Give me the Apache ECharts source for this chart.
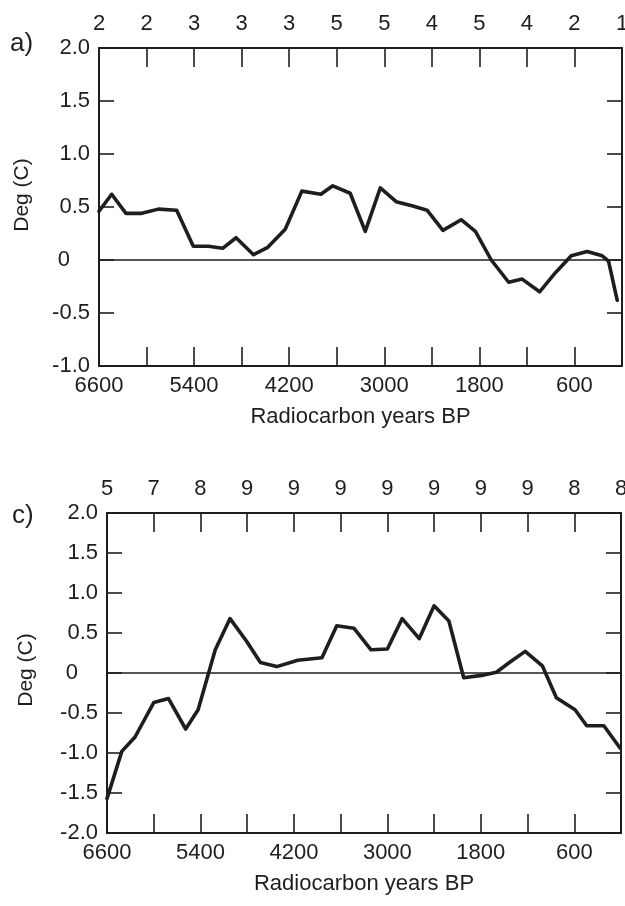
<!DOCTYPE html>
<html>
<head>
<meta charset="utf-8">
<script src="https://cdn.jsdelivr.net/npm/echarts@6/dist/echarts.min.js"></script>
<style>
html,body{margin:0;padding:0;background:#fff;}
#chart{width:625px;height:906px;}
</style>
</head>
<body>
<div id="chart"></div>
<script>
// Panel a) data (radiocarbon years BP, degrees C)
const yearsA = [6600, 6440, 6260, 6060, 5850, 5620, 5410, 5220, 5040, 4870, 4650, 4470, 4250, 4040, 3800, 3650, 3430, 3240, 3050, 2850, 2640, 2460, 2260, 2030, 1850, 1650, 1430, 1260, 1040, 840, 640, 440, 250, 170, 60];
const degA   = [0.46, 0.62, 0.44, 0.44, 0.48, 0.47, 0.13, 0.13, 0.11, 0.21, 0.05, 0.12, 0.29, 0.65, 0.62, 0.70, 0.63, 0.27, 0.68, 0.55, 0.51, 0.47, 0.28, 0.38, 0.27, 0.0, -0.21, -0.18, -0.30, -0.12, 0.04, 0.08, 0.04, -0.01, -0.38];
// Panel c) data
const yearsC = [6600, 6410, 6240, 6000, 5810, 5590, 5430, 5210, 5020, 4810, 4630, 4420, 4150, 3840, 3650, 3430, 3210, 3000, 2810, 2590, 2400, 2210, 2020, 1790, 1600, 1420, 1230, 1010, 830, 590, 440, 220, 10];
const degC   = [-1.57, -0.98, -0.80, -0.37, -0.32, -0.70, -0.46, 0.29, 0.68, 0.40, 0.13, 0.08, 0.16, 0.19, 0.59, 0.56, 0.29, 0.30, 0.68, 0.43, 0.84, 0.65, -0.06, -0.03, 0.01, 0.14, 0.27, 0.09, -0.31, -0.46, -0.66, -0.66, -0.94];
// Top-axis labels (number of records), from 6600 BP to 0 BP
const countsA = ['2', '2', '3', '3', '3', '5', '5', '4', '5', '4', '2', '1'];
const countsC = ['5', '7', '8', '9', '9', '9', '9', '9', '9', '9', '8', '8'];
// Bottom-axis labelled years
const yearLabels = [6600, 5400, 4200, 3000, 1800, 600];
const panelLabels = ['a)', 'c)'];
const xTitle = 'Radiocarbon years BP';
const yTitle = 'Deg (C)';

const FONT = 'Liberation Sans, Arial, Helvetica, sans-serif';
const INK = '#1e1e1e';

function pairs(xs, ys){ return xs.map((x,i)=>[x, ys[i]]); }

function xAxes(gridIndex, counts){
  const common = {
    gridIndex, type:'value', min:0, max:6600, interval:600, inverse:true,
    axisLine:{show:true, onZero:false, lineStyle:{color:INK, width:2}},
    axisTick:{show:true, inside:true, length:19, lineStyle:{color:INK, width:1.6}},
    splitLine:{show:false}
  };
  return [
    Object.assign({}, common, {
      position:'bottom',
      name:xTitle, nameLocation:'middle', nameGap:40,
      nameTextStyle:{fontFamily:FONT, fontSize:22, color:INK},
      axisLabel:{show:true, margin:9, fontFamily:FONT, fontSize:22, color:INK,
        showMinLabel:true, showMaxLabel:true, hideOverlap:false,
        formatter:(v)=> yearLabels.indexOf(v) >= 0 ? String(v) : ''}
    }),
    Object.assign({}, common, {
      position:'top',
      axisLabel:{show:true, margin:13, fontFamily:FONT, fontSize:22, color:INK,
        showMinLabel:true, showMaxLabel:true, hideOverlap:false,
        formatter:(v)=> { const i = Math.round((6600 - v)/600); return counts[i] || ''; }}
    })
  ];
}

function yAxes(gridIndex, min, max){
  const common = {
    gridIndex, type:'value', min, max, interval:0.5,
    axisLine:{show:true, onZero:false, lineStyle:{color:INK, width:2}},
    axisTick:{show:true, inside:true, length:15, lineStyle:{color:INK, width:1.6}},
    splitLine:{show:false}
  };
  return [
    Object.assign({}, common, {
      position:'left',
      axisLabel:{show:true, margin:9, fontFamily:FONT, fontSize:22, color:INK,
        showMinLabel:true, showMaxLabel:true, hideOverlap:false,
        formatter:(v)=> v === 0 ? '{z|0}' : v.toFixed(1),
        rich:{z:{fontFamily:FONT, fontSize:22, color:INK, padding:[0,20,0,0]}}}
    }),
    Object.assign({}, common, {
      position:'right',
      axisLabel:{show:false}
    })
  ];
}

function lineSeries(xi, yi, data){
  return {
    type:'line', xAxisIndex:xi, yAxisIndex:yi, data, symbol:'none', smooth:false,
    lineStyle:{color:INK, width:3.6, join:'round', cap:'round'},
    animation:false, silent:true,
    markLine:{silent:true, symbol:['none','none'], animation:false, label:{show:false},
      lineStyle:{color:INK, width:1.6, type:'solid'}, data:[{yAxis:0}]}
  };
}

const chart = echarts.init(document.getElementById('chart'), null, {renderer:'canvas'});
chart.setOption({
  backgroundColor:'#fff',
  animation:false,
  grid:[
    {left:99, top:48, width:523, height:318, containLabel:false, outerBoundsMode:'none'},
    {left:107, top:513, width:514, height:320, containLabel:false, outerBoundsMode:'none'}
  ],
  xAxis:[].concat(xAxes(0, countsA), xAxes(1, countsC)),
  yAxis:[].concat(yAxes(0, -1, 2), yAxes(1, -2, 2)),
  series:[
    lineSeries(0, 0, pairs(yearsA, degA)),
    lineSeries(2, 2, pairs(yearsC, degC))
  ],
  graphic:[
    {type:'text', left:10, top:31, style:{text:panelLabels[0], font:'26px ' + FONT, fill:INK}},
    {type:'text', left:12, top:503, style:{text:panelLabels[1], font:'26px ' + FONT, fill:INK}},
    {type:'text', x:22, y:195, rotation:Math.PI/2,
      style:{text:yTitle, font:'21px ' + FONT, fill:INK, align:'center', verticalAlign:'middle'}},
    {type:'text', x:26, y:670, rotation:Math.PI/2,
      style:{text:yTitle, font:'21px ' + FONT, fill:INK, align:'center', verticalAlign:'middle'}}
  ]
});
</script>
</body>
</html>
